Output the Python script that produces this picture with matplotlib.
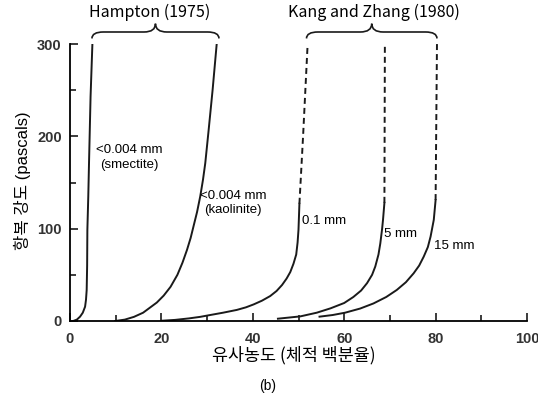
import numpy as np
import matplotlib
matplotlib.use("Agg")
from matplotlib import pyplot as plt
from matplotlib.path import Path
from matplotlib.patches import PathPatch

plt.rcParams["lines.scale_dashes"] = False

# Hampton (1975)
smectite_x = [0.7, 1.5, 2.2, 2.8, 3.3, 3.5, 3.65, 3.75, 3.8, 4.0, 4.16, 4.5, 4.9]
smectite_y = [0, 1.5, 4.7, 9, 15.5, 23, 33.6, 60, 98.7, 135, 171, 243, 300]
kaolinite_x = [9.9, 12, 14, 16, 17.5, 19, 20.5, 22, 23.5, 24.6, 25.6, 26.4, 27.0, 27.8, 28.5, 29.1, 29.6, 30.3, 31.2, 32.1]
kaolinite_y = [0, 1.5, 4.5, 9, 14.5, 20, 27.5, 37, 50, 63, 77, 90, 102, 118, 135, 153, 171, 205, 250, 300]

# Kang and Zhang (1980), solid = measured, dashed = extrapolated
mm01_x = [20.1, 23, 26, 28.5, 30.7, 33.5, 36.5, 38.5, 40.2, 42, 43.8, 45.2, 46.4, 47.4, 48.2, 48.9, 49.5, 49.8, 50.0, 50.1, 50.2]
mm01_y = [0.3, 1.2, 2.8, 4.5, 6.5, 9, 12, 14.8, 18, 22, 27, 32.5, 39, 46, 53, 62, 72, 85, 99, 113, 127]
mm01_dash_x = [50.2, 51.0, 52.0]
mm01_dash_y = [127, 200, 300]
mm5_x = [45.5, 50.4, 54, 57, 60, 62, 63.7, 65, 66.1, 66.8, 67.5, 67.9, 68.3, 68.5, 68.8]
mm5_y = [2.5, 5, 9, 13.7, 19.5, 26, 33, 41, 50, 59, 72, 84, 100, 110, 128]
mm5_dash_x = [68.8, 68.9]
mm5_dash_y = [128, 300]
mm15_x = [54.6, 57.5, 60.2, 63.5, 66.4, 69.2, 71.5, 73.5, 75.2, 76.4, 77.4, 78.3, 78.9, 79.6, 80.0]
mm15_y = [4.7, 6.5, 9, 13.5, 19, 26, 33.6, 42, 51.7, 60, 69.7, 80, 91.4, 109.5, 131]
mm15_dash_x = [80.0, 80.3]
mm15_dash_y = [131, 300]

hampton_span = [4.8, 32.6]
kang_span = [51.75, 80.3]

xticks = [0, 20, 40, 60, 80, 100]
yticks = [0, 100, 200, 300]

ko = ["Noto Sans CJK KR", "DejaVu Sans"]
lat = ["Liberation Sans", "Noto Sans CJK KR", "DejaVu Sans"]

fig = plt.figure(figsize=(5.38, 3.97), dpi=100)
ax = fig.add_axes([70 / 538, 76 / 397, 457 / 538, 277 / 397])

lw = 1.4
col = "#1a1a1a"
ax.plot(smectite_x, smectite_y, color=col, lw=lw)
ax.plot(kaolinite_x, kaolinite_y, color=col, lw=lw)
ax.plot(mm01_x, mm01_y, color=col, lw=lw)
ax.plot(mm5_x, mm5_y, color=col, lw=lw)
ax.plot(mm15_x, mm15_y, color=col, lw=lw)
for dx, dy in [(mm01_dash_x, mm01_dash_y), (mm5_dash_x, mm5_dash_y), (mm15_dash_x, mm15_dash_y)]:
	ax.plot(dx, dy, color=col, lw=lw, linestyle=(0, (4.3, 2.9)), clip_on=False)

ax.set_xlim(0, 100)
ax.set_ylim(0, 300)
ax.spines["top"].set_visible(False)
ax.spines["right"].set_visible(False)
ax.spines["left"].set_linewidth(1.3)
ax.spines["bottom"].set_linewidth(1.3)
ax.set_xticks(xticks)
ax.set_yticks(yticks)
ax.set_xticks([10, 30, 50, 70, 90], minor=True)
ax.set_yticks([50, 150, 250], minor=True)
ax.tick_params(which="major", direction="in", length=6, width=1.2, color=col)
ax.tick_params(which="minor", direction="in", length=4, width=1.2, color=col)
ax.tick_params(axis="x", which="major", pad=8)
ax.tick_params(axis="y", which="major", pad=6)
for t in ax.get_xticklabels() + ax.get_yticklabels():
	t.set_family(lat)
	t.set_fontsize(10.5)
	t.set_fontweight("bold")
	t.set_color("#333333")


def brace(x0, x1, y_tip, y_mid, y_peak, r):
	xm = (x0 + x1) / 2
	verts = [(x0, y_tip), (x0, y_mid), (x0 + r, y_mid),
		(xm - r, y_mid), (xm, y_mid), (xm, y_peak),
		(xm, y_mid), (xm + r, y_mid),
		(x1 - r, y_mid), (x1, y_mid), (x1, y_tip)]
	codes = [Path.MOVETO, Path.CURVE3, Path.CURVE3,
		Path.LINETO, Path.CURVE3, Path.CURVE3,
		Path.CURVE3, Path.CURVE3,
		Path.LINETO, Path.CURVE3, Path.CURVE3]
	ax.add_patch(PathPatch(Path(verts, codes), fill=False, lw=1.2, ec=col, clip_on=False))


brace(hampton_span[0], hampton_span[1], 306, 313, 322, 2.5)
brace(kang_span[0], kang_span[1], 306, 313, 322, 2.5)

ax.text(17.4, 334, "Hampton (1975)", family=ko, fontsize=11.5, ha="center", va="center", clip_on=False)
ax.text(66.5, 334, "Kang and Zhang (1980)", family=ko, fontsize=11.5, ha="center", va="center", clip_on=False)

ax.text(12.9, 177, "<0.004 mm\n(smectite)", family=lat, fontsize=9.5, ha="center", va="center", linespacing=1.25)
ax.text(35.7, 128, "<0.004 mm\n(kaolinite)", family=lat, fontsize=9.5, ha="center", va="center", linespacing=1.25)
ax.text(50.7, 108.5, "0.1 mm", family=lat, fontsize=9.5, ha="left", va="center")
ax.text(68.8, 94.4, "5 mm", family=lat, fontsize=9.5, ha="left", va="center")
ax.text(79.7, 80.8, "15 mm", family=lat, fontsize=9.5, ha="left", va="center")

fig.text(22 / 538, 0.545, "항복 강도 (pascals)", family=lat, fontsize=12, rotation=90, ha="center", va="center")
fig.text(0.547, 0.104, "유사농도 (체적 백분율)", family=ko, fontsize=12.5, ha="center", va="center")
fig.text(0.497, 0.028, "(b)", family=lat, fontsize=10, ha="center", va="center")

fig.savefig("out.png", dpi=100)
